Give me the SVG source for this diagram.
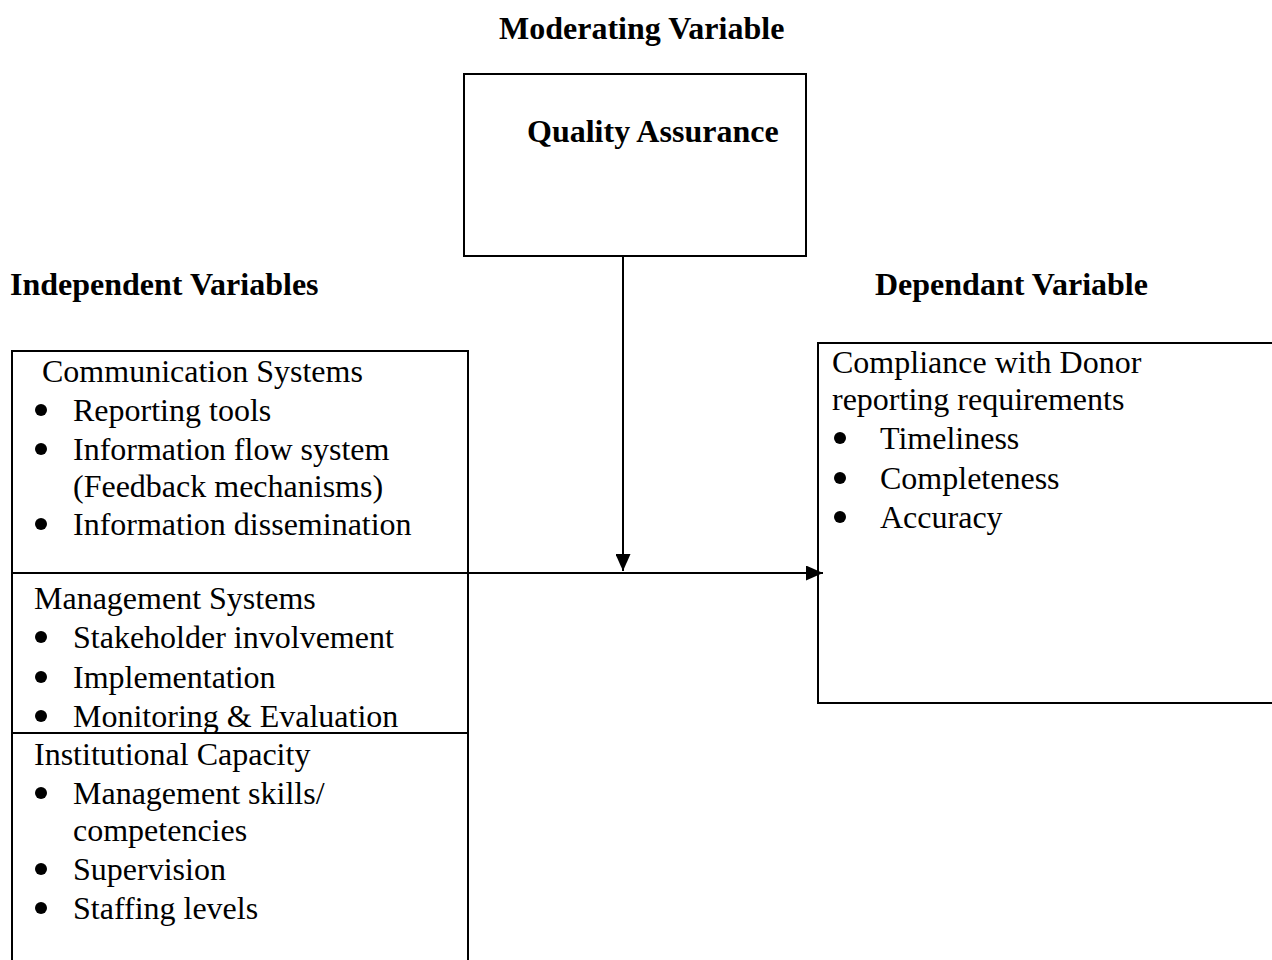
<svg xmlns="http://www.w3.org/2000/svg" width="1272" height="960" viewBox="0 0 1272 960">
<style>
text{font-family:"Liberation Serif","Times New Roman",serif;font-size:32px;fill:#000}
.b{font-weight:bold}
.box{fill:none;stroke:#000;stroke-width:2}
.ln{stroke:#000;stroke-width:2;fill:none}
.dot{fill:#000}
</style>
<defs>
<marker id="ah2" viewBox="0 0 10 10" refX="10" refY="5" markerWidth="17" markerHeight="15" markerUnits="userSpaceOnUse" orient="auto" preserveAspectRatio="none"><path d="M0,0 L10,5 L0,10 z" fill="#000"/></marker>
</defs>
<rect width="1272" height="960" fill="#fff"/>
<g id="headings">
<text class="b" x="499" y="39">Moderating Variable</text>
<text class="b" x="10" y="295">Independent Variables</text>
<text class="b" x="875" y="295">Dependant Variable</text>
</g>
<g id="quality-assurance">
<rect class="box" x="464" y="74" width="342" height="182"/>
<text class="b" x="527" y="142">Quality Assurance</text>
</g>
<g id="independent">
<path class="ln" d="M12,970 V351 H468 V970"/>
<line class="ln" x1="12" y1="573" x2="468" y2="573"/>
<line class="ln" x1="12" y1="733" x2="468" y2="733"/>
<text x="42" y="382">Communication Systems</text>
<circle class="dot" cx="41" cy="410" r="6"/><text x="73" y="421">Reporting tools</text>
<circle class="dot" cx="41" cy="449" r="6"/><text x="73" y="460">Information flow system</text>
<text x="73" y="497">(Feedback mechanisms)</text>
<circle class="dot" cx="41" cy="524" r="6"/><text x="73" y="535">Information dissemination</text>
<text x="34" y="609">Management Systems</text>
<circle class="dot" cx="41" cy="637" r="6"/><text x="73" y="648">Stakeholder involvement</text>
<circle class="dot" cx="41" cy="677" r="6"/><text x="73" y="688">Implementation</text>
<circle class="dot" cx="41" cy="716" r="6"/><text x="73" y="727">Monitoring &amp; Evaluation</text>
<text x="34" y="765">Institutional Capacity</text>
<circle class="dot" cx="41" cy="793" r="6"/><text x="73" y="804">Management skills/</text>
<text x="73" y="841">competencies</text>
<circle class="dot" cx="41" cy="869" r="6"/><text x="73" y="880">Supervision</text>
<circle class="dot" cx="41" cy="908" r="6"/><text x="73" y="919">Staffing levels</text>
</g>
<g id="dependent">
<path class="ln" d="M1273,343 H818 V703 H1273"/>
<text x="832" y="373">Compliance with Donor</text>
<text x="832" y="410">reporting requirements</text>
<circle class="dot" cx="840" cy="438" r="6"/><text x="880" y="449">Timeliness</text>
<circle class="dot" cx="840" cy="478" r="6"/><text x="880" y="489">Completeness</text>
<circle class="dot" cx="840" cy="517" r="6"/><text x="880" y="528">Accuracy</text>
</g>
<g id="connectors">
<line class="ln" x1="623" y1="257" x2="623" y2="571" marker-end="url(#ah2)"/>
<line class="ln" x1="468" y1="573" x2="823" y2="573" marker-end="url(#ah2)"/>
</g>
</svg>
